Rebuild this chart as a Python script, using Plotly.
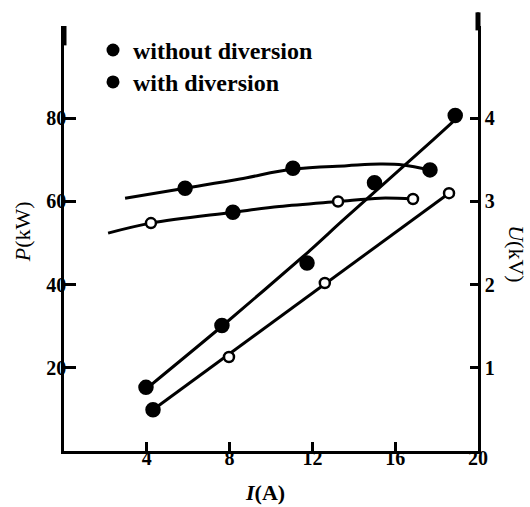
import plotly.graph_objects as go

# ---- data ----
# P (kW) vs I (A): measured points
I_P_without = [3.96, 7.63, 11.74, 15.0, 18.9]
P_without = [15.3, 30.2, 45.2, 64.5, 80.7]
I_P_with = [4.3, 7.97, 12.6, 18.6]
P_with = [9.9, 22.6, 40.4, 62.0]

# P fitted lines
I_P_without_fit = [3.96, 7.63, 11.74, 13.48, 17.83, 18.89]
P_without_fit = [14.9, 30.0, 47.6, 55.5, 74.8, 79.6]
I_P_with_fit = [4.3, 18.6]
P_with_fit = [9.9, 62.0]

# U (kV) vs I (A): measured points
I_U_without = [5.85, 11.06, 17.68]
U_without = [3.16, 3.40, 3.38]
I_U_with = [4.2, 8.16, 13.24, 16.86]
U_with = [2.74, 2.87, 3.00, 3.03]

# U fitted curves
I_U_without_fit = [2.95, 5.85, 8.5, 11.06, 13.67, 15.27, 16.38, 17.68]
U_without_fit = [3.04, 3.16, 3.27, 3.39, 3.43, 3.45, 3.44, 3.38]
I_U_with_fit = [2.13, 4.2, 8.16, 10.4, 13.24, 15.27, 16.86]
U_with_fit = [2.62, 2.74, 2.87, 2.94, 3.00, 3.04, 3.03]

x_ticks = [4, 8, 12, 16, 20]
P_ticks = [20, 40, 60, 80]
U_ticks = [1, 2, 3, 4]

legend_labels = ["without diversion", "with diversion"]

# ---- layout geometry (pixels) ----
W, H = 530, 507
ML, MR, MT, MB = 64, 52, 25.6, 56
PW, PH = W - ML - MR, H - MT - MB


def px(xp):
    return (xp - ML) / PW


def py(yp):
    return (H - MB - yp) / PH


SERIF = "Liberation Serif"
BLACK = "black"


def marker_style(fills):
    return dict(
        color=[BLACK if f else "white" for f in fills],
        size=[13 if f else 10 for f in fills],
        line=dict(color=BLACK, width=2.5),
        symbol="circle",
        opacity=1,
    )


fig = go.Figure()

# fitted lines
fig.add_trace(go.Scatter(x=I_P_without_fit, y=P_without_fit, mode="lines",
                         line=dict(color=BLACK, width=3, shape="spline", smoothing=0.6),
                         showlegend=False, hoverinfo="skip"))
fig.add_trace(go.Scatter(x=I_P_with_fit, y=P_with_fit, mode="lines",
                         line=dict(color=BLACK, width=3),
                         showlegend=False, hoverinfo="skip"))
fig.add_trace(go.Scatter(x=I_U_without_fit, y=U_without_fit, mode="lines", yaxis="y2",
                         line=dict(color=BLACK, width=3, shape="spline", smoothing=1.0),
                         showlegend=False, hoverinfo="skip"))
fig.add_trace(go.Scatter(x=I_U_with_fit, y=U_with_fit, mode="lines", yaxis="y2",
                         line=dict(color=BLACK, width=3, shape="spline", smoothing=1.0),
                         showlegend=False, hoverinfo="skip"))

# measured points
fig.add_trace(go.Scatter(x=I_P_without, y=P_without, mode="markers",
                         marker=marker_style([1, 1, 1, 1, 1]),
                         name=legend_labels[0], showlegend=False))
fig.add_trace(go.Scatter(x=I_P_with, y=P_with, mode="markers",
                         marker=marker_style([1, 0, 0, 0]),
                         name=legend_labels[1], showlegend=False))
fig.add_trace(go.Scatter(x=I_U_without, y=U_without, mode="markers", yaxis="y2",
                         marker=marker_style([1, 1, 1]),
                         name=legend_labels[0], showlegend=False))
fig.add_trace(go.Scatter(x=I_U_with, y=U_with, mode="markers", yaxis="y2",
                         marker=marker_style([0, 1, 0, 0]),
                         name=legend_labels[1], showlegend=False))

# legend entries (as printed in the reference: both filled dots), one legend box per row
legend_ids = ["legend", "legend2"]
for lab, lid in zip(legend_labels, legend_ids):
    fig.add_trace(go.Scatter(x=[None], y=[None], mode="markers", name=lab, legend=lid,
                             marker=dict(color=BLACK, size=13, opacity=1, line=dict(width=0)),
                             showlegend=True))

P_top = 102.2
tickfont = dict(family=SERIF, size=20, color=BLACK, weight="bold")
legend_font = dict(family=SERIF, size=24, color=BLACK, weight="bold")

fig.update_layout(
    width=W, height=H,
    margin=dict(l=ML, r=MR, t=MT, b=MB, pad=0),
    paper_bgcolor="white", plot_bgcolor="white",
    font=dict(family=SERIF, color=BLACK),
    xaxis=dict(range=[0, 20], tickvals=x_ticks, ticktext=[str(v) for v in x_ticks],
               ticks="inside", ticklen=9, tickwidth=2.5, tickcolor=BLACK,
               showline=True, linewidth=2.5, linecolor=BLACK, showgrid=False,
               zeroline=False, tickfont=tickfont, ticklabelstandoff=-13),
    yaxis=dict(range=[0, P_top], tickvals=P_ticks, ticktext=[str(v) for v in P_ticks],
               ticks="inside", ticklen=12, tickwidth=2.5, tickcolor=BLACK,
               showline=True, linewidth=2.5, linecolor=BLACK, showgrid=False,
               zeroline=False, tickfont=tickfont, ticklabelstandoff=-9),
    yaxis2=dict(range=[0, P_top / 20], tickvals=U_ticks, ticktext=[str(v) for v in U_ticks],
                overlaying="y", side="right",
                ticks="inside", ticklen=8, tickwidth=2.5, tickcolor=BLACK,
                showline=True, linewidth=2.5, linecolor=BLACK, showgrid=False,
                zeroline=False, tickfont=tickfont, ticklabelstandoff=0),
    legend=dict(x=px(93), y=py(50), xanchor="left", yanchor="middle",
                font=legend_font, bgcolor="rgba(0,0,0,0)", itemwidth=30),
    legend2=dict(x=px(93), y=py(82), xanchor="left", yanchor="middle",
                 font=legend_font, bgcolor="rgba(0,0,0,0)", itemwidth=30),
    showlegend=True,
)

# axis titles
fig.add_annotation(x=px(22), y=py(232), xref="paper", yref="paper",
                   xanchor="center", yanchor="middle",
                   text="<i>P</i>(kW)", textangle=-90, showarrow=False,
                   font=dict(family=SERIF, size=22, color=BLACK))
fig.add_annotation(x=px(517), y=py(253), xref="paper", yref="paper",
                   xanchor="center", yanchor="middle",
                   text="<i>U</i>(kV)", textangle=90, showarrow=False,
                   font=dict(family=SERIF, size=22, color=BLACK))
fig.add_annotation(x=px(265), y=py(493), xref="paper", yref="paper",
                   xanchor="center", yanchor="middle",
                   text="<i>I</i>(A)", showarrow=False,
                   font=dict(family=SERIF, size=22, color=BLACK, weight="bold"))

# axis extensions / thick ends at the top
fig.add_shape(type="line", xref="paper", yref="paper", x0=1, x1=1, y0=1, y1=py(12),
              line=dict(color=BLACK, width=2.5))
fig.add_shape(type="line", xref="paper", yref="paper", x0=0, x1=0, y0=py(45), y1=1,
              line=dict(color=BLACK, width=5))
fig.add_shape(type="line", xref="paper", yref="paper", x0=1, x1=1, y0=py(30), y1=py(12),
              line=dict(color=BLACK, width=5))

fig.write_html("out.html", config={"displayModeBar": False},
               post_script="document.body.style.margin='0px';")
